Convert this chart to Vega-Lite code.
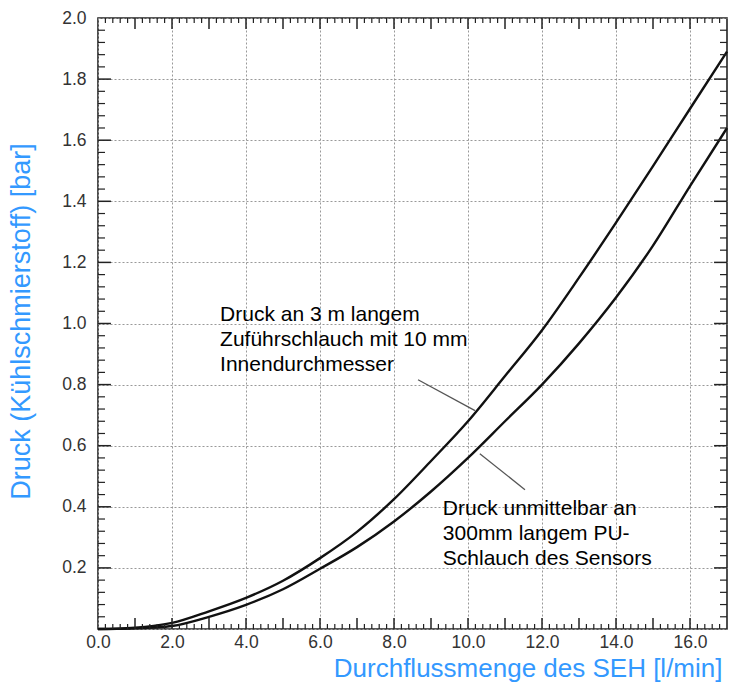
{
  "$schema": "https://vega.github.io/schema/vega-lite/v6.json",
  "width": 629,
  "height": 611,
  "autosize": "none",
  "padding": {"left": 98, "top": 18, "right": 7, "bottom": 53},
  "background": "white",
  "config": {
    "view": {"stroke": "#222", "strokeWidth": 1.6},
    "axis": {"labelFont": "Liberation Sans", "titleFont": "Liberation Sans", "labelFlush": false}
  },
  "datasets": {
    "curves": [
      {"series": "3 m Zuführschlauch", "x": 0, "y": 0.0},
      {"series": "3 m Zuführschlauch", "x": 0.5, "y": 0.001},
      {"series": "3 m Zuführschlauch", "x": 1, "y": 0.004},
      {"series": "3 m Zuführschlauch", "x": 1.5, "y": 0.01},
      {"series": "3 m Zuführschlauch", "x": 2, "y": 0.02},
      {"series": "3 m Zuführschlauch", "x": 3, "y": 0.058},
      {"series": "3 m Zuführschlauch", "x": 4, "y": 0.102},
      {"series": "3 m Zuführschlauch", "x": 5, "y": 0.158},
      {"series": "3 m Zuführschlauch", "x": 6, "y": 0.232},
      {"series": "3 m Zuführschlauch", "x": 7, "y": 0.318},
      {"series": "3 m Zuführschlauch", "x": 8, "y": 0.425},
      {"series": "3 m Zuführschlauch", "x": 9, "y": 0.55},
      {"series": "3 m Zuführschlauch", "x": 10, "y": 0.68},
      {"series": "3 m Zuführschlauch", "x": 11, "y": 0.828},
      {"series": "3 m Zuführschlauch", "x": 12, "y": 0.978},
      {"series": "3 m Zuführschlauch", "x": 13, "y": 1.15},
      {"series": "3 m Zuführschlauch", "x": 14, "y": 1.33},
      {"series": "3 m Zuführschlauch", "x": 15, "y": 1.515},
      {"series": "3 m Zuführschlauch", "x": 16, "y": 1.703},
      {"series": "3 m Zuführschlauch", "x": 17, "y": 1.89},
      {"series": "300mm PU-Schlauch", "x": 0, "y": 0.0},
      {"series": "300mm PU-Schlauch", "x": 1, "y": 0.002},
      {"series": "300mm PU-Schlauch", "x": 1.5, "y": 0.005},
      {"series": "300mm PU-Schlauch", "x": 2, "y": 0.01},
      {"series": "300mm PU-Schlauch", "x": 3, "y": 0.04},
      {"series": "300mm PU-Schlauch", "x": 4, "y": 0.079},
      {"series": "300mm PU-Schlauch", "x": 5, "y": 0.13},
      {"series": "300mm PU-Schlauch", "x": 6, "y": 0.197},
      {"series": "300mm PU-Schlauch", "x": 7, "y": 0.268},
      {"series": "300mm PU-Schlauch", "x": 8, "y": 0.352},
      {"series": "300mm PU-Schlauch", "x": 9, "y": 0.45},
      {"series": "300mm PU-Schlauch", "x": 10, "y": 0.56},
      {"series": "300mm PU-Schlauch", "x": 11, "y": 0.68},
      {"series": "300mm PU-Schlauch", "x": 12, "y": 0.8},
      {"series": "300mm PU-Schlauch", "x": 13, "y": 0.935},
      {"series": "300mm PU-Schlauch", "x": 14, "y": 1.085},
      {"series": "300mm PU-Schlauch", "x": 15, "y": 1.255},
      {"series": "300mm PU-Schlauch", "x": 16, "y": 1.45},
      {"series": "300mm PU-Schlauch", "x": 17, "y": 1.64}
    ],
    "leaders": [
      {"x": 8.65, "y": 0.816, "x2": 10.19, "y2": 0.715},
      {"x": 10.32, "y": 0.574, "x2": 11.54, "y2": 0.456}
    ],
    "notes": [
      {"x": 3.3, "y": 1.007, "label": "Druck an 3 m langem\nZuführschlauch mit 10 mm\nInnendurchmesser"},
      {"x": 9.32, "y": 0.374, "label": "Druck unmittelbar an\n300mm langem PU-\nSchlauch des Sensors"}
    ],
    "xmajor": [{"v":1},{"v":2},{"v":3},{"v":4},{"v":5},{"v":6},{"v":7},{"v":8},{"v":9},{"v":10},{"v":11},{"v":12},{"v":13},{"v":14},{"v":15},{"v":16}],
    "xminor": [{"v":0.2},{"v":0.4},{"v":0.6},{"v":0.8},{"v":1.2},{"v":1.4},{"v":1.6},{"v":1.8},{"v":2.2},{"v":2.4},{"v":2.6},{"v":2.8},{"v":3.2},{"v":3.4},{"v":3.6},{"v":3.8},{"v":4.2},{"v":4.4},{"v":4.6},{"v":4.8},{"v":5.2},{"v":5.4},{"v":5.6},{"v":5.8},{"v":6.2},{"v":6.4},{"v":6.6},{"v":6.8},{"v":7.2},{"v":7.4},{"v":7.6},{"v":7.8},{"v":8.2},{"v":8.4},{"v":8.6},{"v":8.8},{"v":9.2},{"v":9.4},{"v":9.6},{"v":9.8},{"v":10.2},{"v":10.4},{"v":10.6},{"v":10.8},{"v":11.2},{"v":11.4},{"v":11.6},{"v":11.8},{"v":12.2},{"v":12.4},{"v":12.6},{"v":12.8},{"v":13.2},{"v":13.4},{"v":13.6},{"v":13.8},{"v":14.2},{"v":14.4},{"v":14.6},{"v":14.8},{"v":15.2},{"v":15.4},{"v":15.6},{"v":15.8},{"v":16.2},{"v":16.4},{"v":16.6},{"v":16.8}],
    "ymajor": [{"v":0.2},{"v":0.4},{"v":0.6},{"v":0.8},{"v":1.0},{"v":1.2},{"v":1.4},{"v":1.6},{"v":1.8}],
    "yminor": [{"v":0.04},{"v":0.08},{"v":0.12},{"v":0.16},{"v":0.24},{"v":0.28},{"v":0.32},{"v":0.36},{"v":0.44},{"v":0.48},{"v":0.52},{"v":0.56},{"v":0.64},{"v":0.68},{"v":0.72},{"v":0.76},{"v":0.84},{"v":0.88},{"v":0.92},{"v":0.96},{"v":1.04},{"v":1.08},{"v":1.12},{"v":1.16},{"v":1.24},{"v":1.28},{"v":1.32},{"v":1.36},{"v":1.44},{"v":1.48},{"v":1.52},{"v":1.56},{"v":1.64},{"v":1.68},{"v":1.72},{"v":1.76},{"v":1.84},{"v":1.88},{"v":1.92},{"v":1.96}]
  },
  "layer": [
    {
      "data": {"name": "curves"},
      "mark": {"type": "line", "color": "#111", "strokeWidth": 2.4, "interpolate": "monotone"},
      "encoding": {
        "x": {
          "field": "x", "type": "quantitative",
          "scale": {"domain": [0, 17], "nice": false, "zero": false},
          "axis": {
            "orient": "bottom",
            "values": [0,1,2,3,4,5,6,7,8,9,10,11,12,13,14,15,16,17],
            "labelExpr": "datum.value % 2 == 0 && datum.value < 17 ? format(datum.value, '.1f') : ''",
            "grid": true, "gridColor": "#999", "gridDash": [2, 2], "gridWidth": 1,
            "ticks": false, "domain": false,
            "labelFontSize": 17.5, "labelColor": "#333", "labelPadding": 4,
            "title": "Durchflussmenge des SEH [l/min]",
            "titleColor": "#3399ff", "titleFontSize": 26, "titleFontWeight": "normal",
            "titleAnchor": "end", "titleAlign": "right", "titleBaseline": "alphabetic",
            "titleX": 624, "titleY": 47
          }
        },
        "y": {
          "field": "y", "type": "quantitative",
          "scale": {"domain": [0, 2], "nice": false, "zero": false},
          "axis": {
            "orient": "left",
            "values": [0,0.2,0.4,0.6,0.8,1.0,1.2,1.4,1.6,1.8,2.0],
            "labelExpr": "datum.value == 0 ? '' : format(datum.value, '.1f')",
            "grid": true, "gridColor": "#999", "gridDash": [2, 2], "gridWidth": 1,
            "ticks": false, "domain": false,
            "labelFontSize": 17.5, "labelColor": "#333", "labelPadding": 12,
            "title": "Druck (Kühlschmierstoff) [bar]",
            "titleColor": "#3399ff", "titleFontSize": 27, "titleFontWeight": "normal",
            "titleAngle": -90, "titleAlign": "center", "titleBaseline": "bottom",
            "titleX": -63, "titleY": 303
          }
        },
        "detail": {"field": "series", "type": "nominal"}
      }
    },
    {
      "data": {"name": "notes"},
      "mark": {"type": "text", "align": "left", "baseline": "alphabetic", "lineBreak": "\n", "lineHeight": 25, "fontSize": 21, "font": "Liberation Sans", "color": "#000"},
      "encoding": {
        "x": {"field": "x", "type": "quantitative"},
        "y": {"field": "y", "type": "quantitative"},
        "text": {"field": "label", "type": "nominal"}
      }
    },
    {
      "data": {"name": "leaders"},
      "mark": {"type": "rule", "color": "#555", "strokeWidth": 1.3},
      "encoding": {
        "x": {"field": "x", "type": "quantitative"},
        "y": {"field": "y", "type": "quantitative"},
        "x2": {"field": "x2"},
        "y2": {"field": "y2"}
      }
    },
    {
      "data": {"name": "xmajor"},
      "mark": {"type": "rule", "color": "#222", "strokeWidth": 1.5},
      "encoding": {"x": {"field": "v", "type": "quantitative"}, "y": {"datum": 0, "type": "quantitative"}, "y2": {"datum": 0.036}}
    },
    {
      "data": {"name": "xmajor"},
      "mark": {"type": "rule", "color": "#222", "strokeWidth": 1.5},
      "encoding": {"x": {"field": "v", "type": "quantitative"}, "y": {"datum": 2, "type": "quantitative"}, "y2": {"datum": 1.964}}
    },
    {
      "data": {"name": "xminor"},
      "mark": {"type": "rule", "color": "#222", "strokeWidth": 1.2},
      "encoding": {"x": {"field": "v", "type": "quantitative"}, "y": {"datum": 0, "type": "quantitative"}, "y2": {"datum": 0.0164}}
    },
    {
      "data": {"name": "xminor"},
      "mark": {"type": "rule", "color": "#222", "strokeWidth": 1.2},
      "encoding": {"x": {"field": "v", "type": "quantitative"}, "y": {"datum": 2, "type": "quantitative"}, "y2": {"datum": 1.9836}}
    },
    {
      "data": {"name": "ymajor"},
      "mark": {"type": "rule", "color": "#222", "strokeWidth": 1.5},
      "encoding": {"y": {"field": "v", "type": "quantitative"}, "x": {"datum": 0, "type": "quantitative"}, "x2": {"datum": 0.35}}
    },
    {
      "data": {"name": "ymajor"},
      "mark": {"type": "rule", "color": "#222", "strokeWidth": 1.5},
      "encoding": {"y": {"field": "v", "type": "quantitative"}, "x": {"datum": 17, "type": "quantitative"}, "x2": {"datum": 16.65}}
    },
    {
      "data": {"name": "yminor"},
      "mark": {"type": "rule", "color": "#222", "strokeWidth": 1.2},
      "encoding": {"y": {"field": "v", "type": "quantitative"}, "x": {"datum": 0, "type": "quantitative"}, "x2": {"datum": 0.19}}
    },
    {
      "data": {"name": "yminor"},
      "mark": {"type": "rule", "color": "#222", "strokeWidth": 1.2},
      "encoding": {"y": {"field": "v", "type": "quantitative"}, "x": {"datum": 17, "type": "quantitative"}, "x2": {"datum": 16.81}}
    }
  ]
}
